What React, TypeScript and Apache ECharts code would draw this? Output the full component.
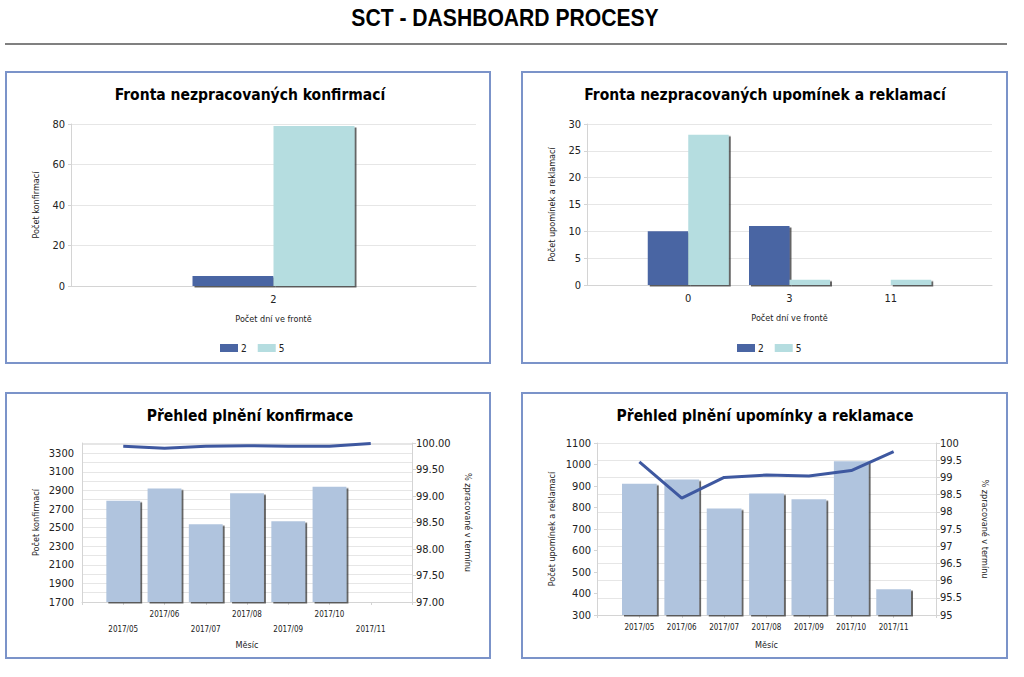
import React, { useEffect, useRef } from 'react';
import * as echarts from 'echarts';

const pageTitle = 'SCT - DASHBOARD PROCESY';
const chartTitles = [
  'Fronta nezpracovaných konfirmací',
  'Fronta nezpracovaných upomínek a reklamací',
  'Přehled plnění konfirmace',
  'Přehled plnění upomínky a reklamace',
];
const legendNames = ['2', '5'];

const confQueueDays = ['2'];
const confQueue2 = [5];
const confQueue5 = [79];

const remQueueDays = ['0', '3', '11'];
const remQueue2: (number | null)[] = [10, 11, null];
const remQueue5 = [28, 1, 1];

const months = ['2017/05', '2017/06', '2017/07', '2017/08', '2017/09', '2017/10', '2017/11'];
const confCount: (number | null)[] = [2790, 2920, 2535, 2870, 2568, 2940, null];
const confPct = [99.94, 99.9, 99.94, 99.95, 99.94, 99.94, 99.99];
const remCount = [910, 930, 795, 865, 838, 1015, 420];
const remPct = [99.45, 98.4, 99.0, 99.07, 99.04, 99.2, 99.75];

const FONT = '"DejaVu Sans Condensed", "DejaVu Sans", sans-serif';
const DARK = '#4a65a3';
const TEAL = '#b5dde0';
const STEEL = '#b0c4de';
const LINE = '#3e58a0';
const BORDER = '#7b93c9';
const AXIS = '#d4d4d4';
const GRIDC = '#e6e6e6';

const pad = <T,>(arr: T[], fill: T): T[] => [fill, ...arr, fill];

const barShadow = {
  shadowColor: 'rgba(50,50,50,0.75)',
  shadowOffsetX: 2,
  shadowOffsetY: 1.5,
  shadowBlur: 1,
};

const axisLabel = { fontFamily: FONT, fontSize: 11, color: '#222' };
const nameStyle = { fontFamily: FONT, fontSize: 9, color: '#222' };

export default function App() {
  const ref = useRef<HTMLDivElement>(null);
  useEffect(() => {
    if (!ref.current) return;
    const chart = echarts.init(ref.current, null, { renderer: 'svg' });

    const titlePos = [
      [250, 95],
      [765, 95],
      [250, 416],
      [765, 416],
    ];

    const legendBase = {
      data: legendNames,
      top: 338,
      itemWidth: 18,
      itemHeight: 8,
      itemGap: 11,
      icon: 'rect',
      textStyle: { fontFamily: FONT, fontSize: 10, color: '#222', padding: [0, 0, 0, -2] },
      selectedMode: false,
    };

    const option: any = {
      animation: false,
      backgroundColor: '#fff',
      graphic: [
        {
          type: 'text',
          x: 505,
          y: 18,
          scaleX: 0.88,
          style: {
            text: pageTitle,
            fill: '#000',
            font: 'bold 24px "Liberation Sans", Arial, sans-serif',
            textAlign: 'center',
            textVerticalAlign: 'middle',
          },
        },
        {
          type: 'line',
          shape: { x1: 5, y1: 44, x2: 1007, y2: 44 },
          style: { stroke: '#808080', lineWidth: 2 },
        },
        { type: 'rect', shape: { x: 6, y: 72, width: 484, height: 291 }, style: { fill: 'none', stroke: BORDER, lineWidth: 2 } },
        { type: 'rect', shape: { x: 522, y: 72, width: 485, height: 291 }, style: { fill: 'none', stroke: BORDER, lineWidth: 2 } },
        { type: 'rect', shape: { x: 6, y: 393, width: 484, height: 265 }, style: { fill: 'none', stroke: BORDER, lineWidth: 2 } },
        { type: 'rect', shape: { x: 522, y: 393, width: 485, height: 265 }, style: { fill: 'none', stroke: BORDER, lineWidth: 2 } },
        ...chartTitles.map((t, i) => ({
          type: 'text',
          x: titlePos[i][0],
          y: titlePos[i][1],
          style: {
            text: t,
            fill: '#000',
            font: 'bold 15.5px ' + FONT,
            textAlign: 'center',
            textVerticalAlign: 'middle',
          },
        })),
      ],
      legend: [
        { ...legendBase, left: 215 },
        { ...legendBase, left: 732 },
      ],
      grid: [
        { left: 71, top: 124, width: 405, height: 162 },
        { left: 587, top: 124, width: 405, height: 161 },
        { left: 82, top: 443, width: 330, height: 159 },
        { left: 597, top: 443, width: 339, height: 172 },
      ],
      xAxis: [
        {
          gridIndex: 0,
          type: 'category',
          data: confQueueDays,
          boundaryGap: true,
          axisLine: { lineStyle: { color: AXIS } },
          axisTick: { show: false },
          axisLabel: { ...axisLabel, margin: 8 },
          name: 'Počet dní ve frontě',
          nameLocation: 'middle',
          nameGap: 28,
          nameTextStyle: nameStyle,
        },
        {
          gridIndex: 1,
          type: 'category',
          data: pad(remQueueDays, ''),
          boundaryGap: false,
          axisLine: { lineStyle: { color: AXIS } },
          axisTick: { show: false },
          axisLabel: { ...axisLabel, margin: 8 },
          name: 'Počet dní ve frontě',
          nameLocation: 'middle',
          nameGap: 28,
          nameTextStyle: nameStyle,
        },
        {
          gridIndex: 2,
          type: 'category',
          data: pad(months, ''),
          boundaryGap: false,
          axisLine: { lineStyle: { color: AXIS } },
          axisTick: { show: true, length: 3, lineStyle: { color: AXIS } },
          axisLabel: {
            fontFamily: FONT,
            fontSize: 8,
            color: '#222',
            margin: 5,
            lineHeight: 15,
            interval: 0,
            formatter: (v: string, i: number) => (v === '' ? '' : (i - 1) % 2 === 0 ? '\n' + v : v),
          },
          name: 'Měsíc',
          nameLocation: 'middle',
          nameGap: 38,
          nameTextStyle: nameStyle,
        },
        {
          gridIndex: 3,
          type: 'category',
          data: pad(months, ''),
          boundaryGap: false,
          axisLine: { lineStyle: { color: AXIS } },
          axisTick: { show: true, length: 3, lineStyle: { color: AXIS } },
          axisLabel: { fontFamily: FONT, fontSize: 8, color: '#222', margin: 8, interval: 0 },
          name: 'Měsíc',
          nameLocation: 'middle',
          nameGap: 25,
          nameTextStyle: nameStyle,
        },
      ],
      yAxis: [
        {
          gridIndex: 0,
          type: 'value',
          min: 0,
          max: 80,
          interval: 20,
          axisLine: { show: true, lineStyle: { color: AXIS } },
          axisTick: { show: true, length: 3, lineStyle: { color: AXIS } },
          axisLabel: { ...axisLabel, margin: 6 },
          splitLine: { lineStyle: { color: GRIDC } },
          name: 'Počet konfirmací',
          nameLocation: 'middle',
          nameRotate: 90,
          nameGap: 31,
          nameTextStyle: nameStyle,
        },
        {
          gridIndex: 1,
          type: 'value',
          min: 0,
          max: 30,
          interval: 5,
          axisLine: { show: true, lineStyle: { color: AXIS } },
          axisTick: { show: true, length: 3, lineStyle: { color: AXIS } },
          axisLabel: { ...axisLabel, margin: 6 },
          splitLine: { lineStyle: { color: GRIDC } },
          name: 'Počet upomínek a reklamací',
          nameLocation: 'middle',
          nameRotate: 90,
          nameGap: 31,
          nameTextStyle: nameStyle,
        },
        {
          gridIndex: 2,
          type: 'value',
          min: 1700,
          max: 3410,
          interval: 100,
          axisLine: { show: true, lineStyle: { color: AXIS } },
          axisTick: { show: false },
          axisLabel: {
            ...axisLabel,
            margin: 8,
            showMaxLabel: false,
            formatter: (v: number) => (v <= 3300 && (v - 1700) % 200 === 0 ? String(v) : ''),
          },
          splitLine: { lineStyle: { color: GRIDC } },
          name: 'Počet konfirmací',
          nameLocation: 'middle',
          nameRotate: 90,
          nameGap: 42,
          nameTextStyle: nameStyle,
        },
        {
          gridIndex: 2,
          type: 'value',
          position: 'right',
          min: 97,
          max: 100,
          interval: 0.5,
          axisLine: { show: true, lineStyle: { color: AXIS } },
          axisTick: { show: true, length: 4, lineStyle: { color: AXIS } },
          axisLabel: { ...axisLabel, margin: 4, formatter: (v: number) => v.toFixed(2) },
          splitLine: { show: false },
          name: '% zpracované v termínu',
          nameLocation: 'middle',
          nameRotate: -90,
          nameGap: 51,
          nameTextStyle: nameStyle,
        },
        {
          gridIndex: 3,
          type: 'value',
          min: 300,
          max: 1100,
          interval: 100,
          axisLine: { show: true, lineStyle: { color: AXIS } },
          axisTick: { show: true, length: 3, lineStyle: { color: AXIS } },
          axisLabel: { ...axisLabel, margin: 6, formatter: (v: number) => String(v) },
          splitLine: { show: false },
          name: 'Počet upomínek a reklamací',
          nameLocation: 'middle',
          nameRotate: 90,
          nameGap: 41,
          nameTextStyle: nameStyle,
        },
        {
          gridIndex: 3,
          type: 'value',
          position: 'right',
          min: 95,
          max: 100,
          interval: 0.5,
          axisLine: { show: true, lineStyle: { color: AXIS } },
          axisTick: { show: true, length: 4, lineStyle: { color: AXIS } },
          axisLabel: { ...axisLabel, margin: 4, formatter: (v: number) => String(v) },
          splitLine: { lineStyle: { color: GRIDC } },
          name: '% zpracované v termínu',
          nameLocation: 'middle',
          nameRotate: -90,
          nameGap: 44,
          nameTextStyle: nameStyle,
        },
      ],
      series: [
        {
          type: 'bar',
          name: legendNames[0],
          xAxisIndex: 0,
          yAxisIndex: 0,
          data: confQueue2,
          barGap: '0%',
          barCategoryGap: '60%',
          itemStyle: { color: DARK, ...barShadow },
        },
        {
          type: 'bar',
          name: legendNames[1],
          xAxisIndex: 0,
          yAxisIndex: 0,
          data: confQueue5,
          barGap: '0%',
          barCategoryGap: '60%',
          itemStyle: { color: TEAL, ...barShadow },
        },
        {
          type: 'bar',
          name: legendNames[0],
          xAxisIndex: 1,
          yAxisIndex: 1,
          data: pad(remQueue2, null),
          barGap: '0%',
          barCategoryGap: '20%',
          itemStyle: { color: DARK, ...barShadow },
        },
        {
          type: 'bar',
          name: legendNames[1],
          xAxisIndex: 1,
          yAxisIndex: 1,
          data: pad(remQueue5 as (number | null)[], null),
          barGap: '0%',
          barCategoryGap: '20%',
          itemStyle: { color: TEAL, ...barShadow },
        },
        {
          type: 'bar',
          name: 'Počet konfirmací',
          xAxisIndex: 2,
          yAxisIndex: 2,
          data: pad(confCount, null),
          barCategoryGap: '18%',
          itemStyle: { color: STEEL, ...barShadow },
        },
        {
          type: 'line',
          name: '% konfirmace',
          xAxisIndex: 2,
          yAxisIndex: 3,
          data: pad(confPct as (number | null)[], null),
          symbol: 'none',
          lineStyle: { color: LINE, width: 3 },
        },
        {
          type: 'bar',
          name: 'Počet upomínek',
          xAxisIndex: 3,
          yAxisIndex: 4,
          data: pad(remCount as (number | null)[], null),
          barCategoryGap: '18%',
          itemStyle: { color: STEEL, ...barShadow },
        },
        {
          type: 'line',
          name: '% upomínky',
          xAxisIndex: 3,
          yAxisIndex: 5,
          data: pad(remPct as (number | null)[], null),
          symbol: 'none',
          lineStyle: { color: LINE, width: 3 },
        },
      ],
    };
    chart.setOption(option);
    return () => chart.dispose();
  }, []);

  return (
    <div
      ref={ref}
      style={{ position: 'absolute', left: 0, top: 0, width: 1024, height: 677, background: '#fff' }}
    />
  );
}
